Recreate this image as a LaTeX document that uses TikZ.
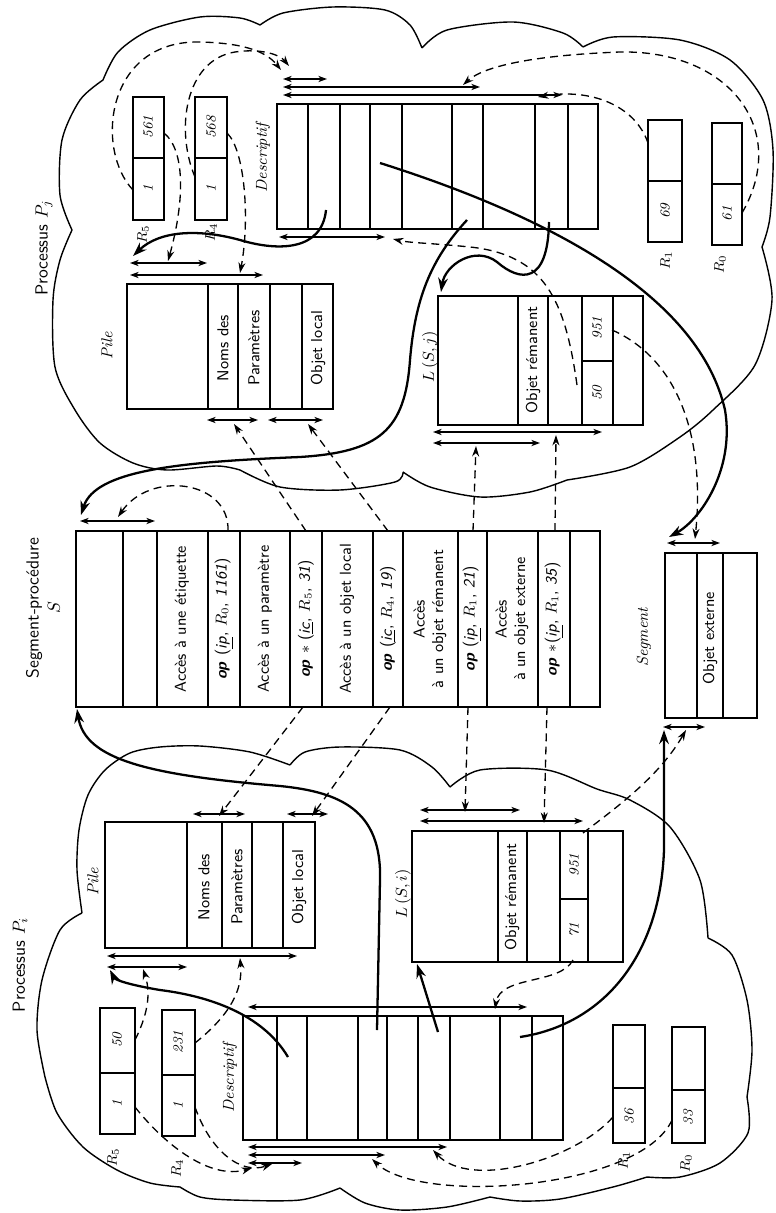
\documentclass[tikz,border=0pt]{standalone}
\usetikzlibrary{arrows.meta}

\tikzset{
  box/.style={line width=1.2pt},
  ptr/.style={{Stealth[length=5pt,width=3.6pt]}-{Stealth[length=5pt,width=3.6pt]}, line width=0.7pt},
  thk/.style={-{Stealth[length=8pt,width=5.5pt]}, line width=1.3pt},
  dsh/.style={-{Stealth[length=6pt,width=4pt]}, line width=0.75pt, dash pattern=on 4.5pt off 3pt},
  cloudline/.style={line width=0.8pt},
  txt/.style={rotate=90, font=\sffamily\fontsize{9}{10.5}\selectfont, align=center, inner sep=0pt},
  ital/.style={rotate=90, font=\itshape\fontsize{9}{10}\selectfont, inner sep=0pt},
  reg/.style={rotate=90, font=\fontsize{8}{9}\selectfont, inner sep=0pt},
  title/.style={rotate=90, font=\sffamily\fontsize{10}{12}\selectfont, align=center, inner sep=0pt},
}
% box cut in columns, and register of two cells
\newcommand{\colbox}[5]{\draw[box] (#1,#2) rectangle (#3,#4);
  \foreach \xc in {#5} \draw[box] (\xc,#2) -- (\xc,#4);}
\newcommand{\regbox}[5]{\draw[box] (#1,#2) rectangle (#3,#4); \draw[box] (#1,#5) -- (#3,#5);}
\newcommand{\opx}{\textbf{\textit{op}}}

\begin{document}
\begin{tikzpicture}[x=0.02cm, y=-0.02cm]
    \useasboundingbox (0,0) rectangle (776,1213);

    % clouds of the two processes
    \draw[cloudline]
      plot[smooth] coordinates {(72,230) (60,195) (62,140) (80,100) (103,80)}
      plot[smooth] coordinates {(103,80) (118,52) (150,30) (200,17) (240,18) (260,25)}
      plot[smooth] coordinates {(260,25) (283,13) (333,7) (385,10) (410,25) (422,48)}
      plot[smooth] coordinates {(422,48) (447,30) (513,22) (563,33) (583,47)}
      plot[smooth] coordinates {(583,47) (613,37) (680,40) (730,60) (763,100) (773,150) (770,217) (762,247)}
      plot[smooth] coordinates {(762,247) (772,300) (755,365) (713,410) (680,437) (630,467) (567,480)}
      plot[smooth] coordinates {(567,480) (530,492) (480,497) (430,487) (403,472)}
      plot[smooth] coordinates {(403,472) (395,482) (340,490) (280,487) (240,470)}
      plot[smooth] coordinates {(240,470) (217,466) (167,470) (133,463) (100,443) (75,410) (55,367) (53,300) (60,260) (72,230)};
    \draw[cloudline]
      plot[smooth] coordinates {(290,765) (250,752) (200,746) (160,747) (130,753) (105,770) (88,795) (79,830) (77,870) (82,913)}
      plot[smooth] coordinates {(82,913) (60,930) (42,980) (37,1030) (45,1077)}
      plot[smooth] coordinates {(45,1077) (57,1113) (83,1147) (117,1170) (150,1183) (180,1187)}
      plot[smooth] coordinates {(180,1187) (200,1197) (233,1200) (300,1200) (340,1188)}
      plot[smooth] coordinates {(340,1188) (365,1203) (400,1210) (447,1207) (490,1197)}
      plot[smooth] coordinates {(490,1197) (520,1201) (560,1199) (613,1187) (647,1177)}
      plot[smooth] coordinates {(647,1177) (680,1177) (720,1163) (748,1133) (747,1097)}
      plot[smooth] coordinates {(747,1097) (752,1050) (747,1000) (732,955) (708,938)}
      plot[smooth] coordinates {(708,938) (700,880) (670,827) (630,800) (597,789) (547,770) (480,770) (450,787)}
      plot[smooth] coordinates {(450,787) (432,767) (400,750) (340,747) (305,752) (290,765)};

    \node[title] (procj) at (44,248) {Processus $P_j$};
    \node[title] (proci) at (20,965) {Processus $P_i$};
    \node[title] (segproc) at (43,608) {Segment-procédure\\$S$};

    % process P_j
    \regbox{133}{97}{164}{220}{158}
    \regbox{195}{97}{227}{220}{158}
    \regbox{648}{120}{682}{242}{181}
    \regbox{712}{123}{742}{245}{184}
    \colbox{277}{104}{598}{229}{308,340,370,402,452,483,535,568}
    \colbox{127}{284}{333}{409}{208,238,270,302}
    \colbox{438}{296}{643}{425}{518,548,582,613}
    \draw[box] (582,361) -- (613,361);

    \node[reg] (r5jd) at (148,127) {\textit{561}};
    \node[reg] (r5js) at (148,189) {\textit{1}};
    \node[reg] (r4jd) at (211,127) {\textit{568}};
    \node[reg] (r4js) at (211,189) {\textit{1}};
    \node[reg] (r1jd) at (665,211) {\textit{69}};
    \node[reg] (r0jd) at (727,214) {\textit{61}};
    \node[reg] (r5jn) at (143,234) {$R_5$};
    \node[reg] (r4jn) at (211,232) {$R_4$};
    \node[reg] (r1jn) at (666,260) {$R_1$};
    \node[reg] (r0jn) at (720,264) {$R_0$};
    \node[ital] (descj) at (263,158) {Descriptif};
    \node[ital] (pilej) at (107,346) {Pile};
    \node[ital] (lsj) at (430,357) {$L\,(S,j)$};
    \node[txt] (nomsj) at (223,348) {Noms des};
    \node[txt] (paramj) at (254,348) {Paramètres};
    \node[txt] (localj) at (318,348) {Objet local};
    \node[txt] (remj) at (533,360) {Objet rémanent};
    \node[reg] (lj951) at (597,328) {\textit{951}};
    \node[reg] (lj50) at (597,393) {\textit{50}};

    % procedure segment S and segment
    \colbox{76}{531}{600}{707}{123,157,208,240,290,322,373,403,458,487,538,570}
    \colbox{665}{553}{757}{718}{697,723}
    \node[txt] (etiq) at (182,619) {Accès à une étiquette};
    \node[txt] (opg) at (224,619) {\opx\ (\underline{\textit{ip}}, $R_0$, \textit{1161})};
    \node[txt] (param) at (265,619) {Accès à un paramètre};
    \node[txt] (opp) at (306,619) {\opx\ $*$ (\underline{\textit{ic}}, $R_5$, \textit{31})};
    \node[txt] (local) at (347,619) {Accès à un objet local};
    \node[txt] (opl) at (388,619) {\opx\ (\underline{\textit{ic}}, $R_4$, \textit{19})};
    \node[txt] (reman) at (430,619) {Accès\\à un objet rémanent};
    \node[txt] (opr) at (472,619) {\opx\ (\underline{\textit{ip}}, $R_1$, \textit{21})};
    \node[txt] (extern) at (512,619) {Accès\\à un objet externe};
    \node[txt] (ope) at (554,619) {\opx\ $*$(\underline{\textit{ip}}, $R_1$, \textit{35})};
    \node[ital] (segt) at (644,637) {Segment};
    \node[txt] (objext) at (710,638) {Objet externe};

    % process P_i
    \colbox{105}{822}{315}{948}{187,222,252,283}
    \colbox{412}{831}{623}{962}{498,527,560,588}
    \draw[box] (560,899) -- (588,899);
    \colbox{243}{1016}{563}{1140}{277,307,358,387,418,450,500,532}
    \regbox{100}{1008}{135}{1134}{1073}
    \regbox{162}{1010}{195}{1136}{1075}
    \regbox{613}{1025}{645}{1143}{1088}
    \regbox{672}{1027}{705}{1143}{1090}

    \node[ital] (pilei) at (93,882) {Pile};
    \node[ital] (desci) at (230,1078) {Descriptif};
    \node[ital] (lsi) at (403,894) {$L\,(S,i)$};
    \node[txt] (nomsi) at (204,887) {Noms des};
    \node[txt] (parami) at (237,887) {Paramètres};
    \node[txt] (locali) at (299,887) {Objet local};
    \node[txt] (remi) at (512,897) {Objet rémanent};
    \node[reg] (li951) at (574,865) {\textit{951}};
    \node[reg] (li71) at (574,930) {\textit{71}};
    \node[reg] (r5id) at (117,1040) {\textit{50}};
    \node[reg] (r5is) at (117,1104) {\textit{1}};
    \node[reg] (r4id) at (178,1042) {\textit{231}};
    \node[reg] (r4is) at (178,1106) {\textit{1}};
    \node[reg] (r1id) at (629,1116) {\textit{36}};
    \node[reg] (r0id) at (688,1117) {\textit{33}};
    \node[reg] (r5in) at (113,1157) {$R_5$};
    \node[reg] (r4in) at (177,1168) {$R_4$};
    \node[reg] (r1in) at (624,1160) {$R_1$};
    \node[reg] (r0in) at (686,1163) {$R_0$};

    % ends of the pointers
    \coordinate (dj1w) at (283,79);   \coordinate (dj1e) at (327,79);
    \coordinate (dj2w) at (283,87);   \coordinate (dj2e) at (480,87);
    \coordinate (dj3w) at (283,95);   \coordinate (dj3e) at (562,95);
    \coordinate (dj4w) at (279,237);  \coordinate (dj4e) at (385,237);
    \coordinate (pj1w) at (130,263);  \coordinate (pj1e) at (207,263);
    \coordinate (pj2w) at (130,275);  \coordinate (pj2e) at (263,275);
    \coordinate (pj3w) at (207,420);  \coordinate (pj3e) at (258,420);
    \coordinate (pj4w) at (268,420);  \coordinate (pj4e) at (323,420);
    \coordinate (lj1w) at (433,432);  \coordinate (lj1e) at (602,432);
    \coordinate (lj2w) at (433,443);  \coordinate (lj2e) at (540,443);
    \coordinate (s1w) at (80,521);    \coordinate (s1e) at (155,521);
    \coordinate (sg1w) at (667,543);  \coordinate (sg1e) at (720,543);
    \coordinate (sg2w) at (663,727);  \coordinate (sg2e) at (705,727);
    \coordinate (pi1w) at (193,814);  \coordinate (pi1e) at (245,814);
    \coordinate (pi2w) at (287,814);  \coordinate (pi2e) at (328,814);
    \coordinate (li1w) at (420,810);  \coordinate (li1e) at (520,810);
    \coordinate (li2w) at (420,821);  \coordinate (li2e) at (583,821);
    \coordinate (pi3w) at (107,956);  \coordinate (pi3e) at (297,956);
    \coordinate (pi4w) at (107,967);  \coordinate (pi4e) at (187,967);
    \coordinate (di1w) at (248,1007); \coordinate (di1e) at (527,1007);
    \coordinate (di2w) at (248,1147); \coordinate (di2e) at (447,1147);
    \coordinate (di3w) at (248,1155); \coordinate (di3e) at (385,1155);
    \coordinate (di4w) at (248,1163); \coordinate (di4e) at (302,1163);
    \foreach \a in {dj1,dj2,dj3,dj4,pj1,pj2,pj3,pj4,lj1,lj2,s1,sg1,sg2,
                    pi1,pi2,li1,li2,pi3,pi4,di1,di2,di3,di4}
        \draw[ptr] (\a w) -- (\a e);

    % links of P_j
    \coordinate (t1s) at (326,210);  \coordinate (t1e) at (133,256);
    \coordinate (t2s) at (467,220);  \coordinate (t2e) at (81,515);
    \coordinate (t3s) at (549,222);  \coordinate (t3e) at (441,292);
    \coordinate (t4s) at (380,163);  \coordinate (t4e) at (669,537);
    \draw[thk] (t1s) .. controls (322,250) and (280,252) .. (240,240)
                     .. controls (200,229) and (160,230) .. (t1e);
    \draw[thk] (t2s) .. controls (430,260) and (415,300) .. (410,360)
                     .. controls (405,430) and (380,452) .. (300,457)
                     .. controls (180,462) and (95,470) .. (t2e);
    \draw[thk] (t3s) .. controls (548,285) and (520,282) .. (497,262)
                     .. controls (475,245) and (445,265) .. (t3e);
    \draw[thk] (t4s) .. controls (560,220) and (700,300) .. (725,410)
                     .. controls (735,470) and (700,520) .. (t4e);

    \coordinate (d1s) at (133,190);  \coordinate (d1e) at (281,70);
    \coordinate (d2s) at (195,177);  \coordinate (d2e) at (289,66);
    \coordinate (d3s) at (164,133);  \coordinate (d3e) at (168,261);
    \coordinate (d4s) at (227,133);  \coordinate (d4e) at (240,273);
    \coordinate (d5s) at (648,143);  \coordinate (d5e) at (538,97);
    \coordinate (d6s) at (742,213);  \coordinate (d6e) at (463,85);
    \coordinate (d7s) at (577,385);  \coordinate (d7e) at (393,239);
    \coordinate (d8s) at (612,330);  \coordinate (d8e) at (695,539);
    \coordinate (d9s) at (228,531);  \coordinate (d9e) at (118,517);
    \draw[dsh] (d1s) .. controls (95,150) and (105,40) .. (200,42)
                     .. controls (240,43) and (265,50) .. (d1e);
    \draw[dsh] (d2s) .. controls (175,130) and (185,60) .. (235,52)
                     .. controls (262,48) and (280,55) .. (d2e);
    \draw[dsh] (d3s) .. controls (185,150) and (185,200) .. (d3e);
    \draw[dsh] (d4s) .. controls (245,150) and (250,220) .. (d4e);
    \draw[dsh] (d5s) .. controls (635,105) and (590,88) .. (d5e);
    \draw[dsh] (d6s) .. controls (790,130) and (730,50) .. (620,52)
                     .. controls (540,55) and (485,65) .. (d6e);
    \draw[dsh] (d7s) .. controls (565,300) and (545,255) .. (470,247)
                     .. controls (430,243) and (410,243) .. (d7e);
    \draw[dsh] (d8s) .. controls (680,360) and (705,440) .. (d8e);
    \draw[dsh] (d9s) .. controls (230,480) and (150,470) .. (d9e);

    % accesses from S
    \coordinate (d10s) at (306,531); \coordinate (d10e) at (234,424);
    \coordinate (d11s) at (388,531); \coordinate (d11e) at (308,424);
    \coordinate (d12s) at (473,531); \coordinate (d12e) at (476,446);
    \coordinate (d13s) at (555,531); \coordinate (d13e) at (556,435);
    \coordinate (e1s) at (303,707);  \coordinate (e1e) at (219,816);
    \coordinate (e2s) at (390,707);  \coordinate (e2e) at (312,816);
    \coordinate (e3s) at (468,707);  \coordinate (e3e) at (465,812);
    \coordinate (e4s) at (547,707);  \coordinate (e4e) at (544,823);
    \foreach \a in {d10,d11,d12,d13,e1,e2,e3,e4}
        \draw[dsh] (\a s) -- (\a e);

    % links of P_i
    \coordinate (u1s) at (288,1057); \coordinate (u1e) at (110,970);
    \coordinate (u2s) at (377,1030); \coordinate (u2e) at (77,709);
    \coordinate (u3s) at (438,1032); \coordinate (u3e) at (417,964);
    \coordinate (u4s) at (520,1037); \coordinate (u4e) at (664,730);
    \draw[thk] (u1s) .. controls (260,1010) and (200,995) .. (160,990)
                     .. controls (130,985) and (115,980) .. (u1e);
    \draw[thk] (u2s) -- (380,880) .. controls (382,810) and (340,792) .. (280,786)
                     .. controls (150,775) and (85,760) .. (u2e);
    \draw[thk] (u3s) -- (u3e);
    \draw[thk] (u4s) .. controls (600,1025) and (660,960) .. (664,850) -- (u4e);

    \coordinate (e5s) at (583,833);   \coordinate (e5e) at (686,730);
    \coordinate (e6s) at (573,960);   \coordinate (e6e) at (495,1009);
    \coordinate (e7s) at (135,1040);  \coordinate (e7e) at (143,969);
    \coordinate (e8s) at (195,1043);  \coordinate (e8e) at (240,958);
    \coordinate (e9s) at (135,1107);  \coordinate (e9e) at (252,1168);
    \coordinate (e10s) at (195,1107); \coordinate (e10e) at (272,1164);
    \coordinate (e11s) at (613,1117); \coordinate (e11e) at (433,1150);
    \coordinate (e12s) at (672,1120); \coordinate (e12e) at (372,1159);
    \draw[dsh] (e5s) .. controls (620,805) and (660,775) .. (e5e);
    \draw[dsh] (e6s) .. controls (560,985) and (500,975) .. (e6e);
    \draw[dsh] (e7s) .. controls (150,1010) and (150,990) .. (e7e);
    \draw[dsh] (e8s) .. controls (230,1015) and (243,990) .. (e8e);
    \draw[dsh] (e9s) .. controls (165,1145) and (210,1180) .. (e9e);
    \draw[dsh] (e10s) .. controls (210,1150) and (240,1175) .. (e10e);
    \draw[dsh] (e11s) .. controls (575,1160) and (470,1190) .. (e11e);
    \draw[dsh] (e12s) .. controls (640,1190) and (420,1205) .. (e12e);
\end{tikzpicture}
\end{document}
